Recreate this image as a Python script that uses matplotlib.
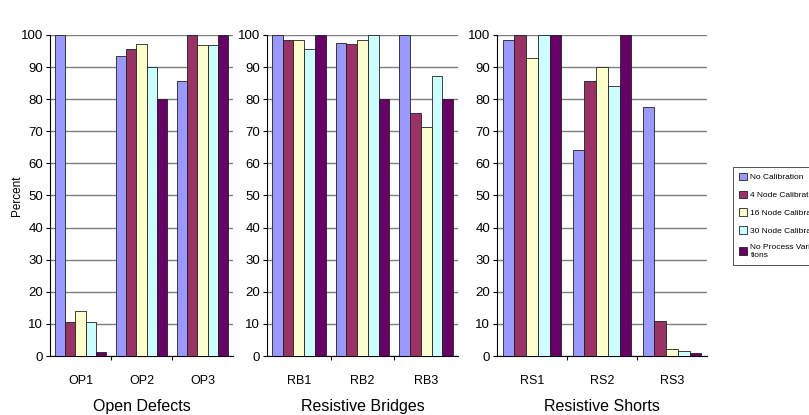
'''
Detection rate per defect type, grouped by calibration setting
'''
import matplotlib.pyplot as plt
import numpy as np

plt.rcParams['font.family'] = ['Liberation Sans', 'DejaVu Sans']

series_names = ['No Calibration', '4 Node Calibration', '16 Node Calibration',
                '30 Node Calibration', 'No Process Varia\ntions']
series_colors = ['#9999ff', '#993366', '#ffffcc', '#ccffff', '#660066']

open_labels = ['OP1', 'OP2', 'OP3']
open_values = [
    [100, 93.5, 85.6],   # No Calibration
    [10.6, 95.6, 100],   # 4 Node
    [14.0, 97.2, 97.0],  # 16 Node
    [10.6, 90.0, 97.0],  # 30 Node
    [1.1, 80.0, 100],    # No Process Variations
]

bridge_labels = ['RB1', 'RB2', 'RB3']
bridge_values = [
    [100, 97.6, 100],
    [98.4, 97.1, 75.6],
    [98.4, 98.4, 71.3],
    [95.6, 100, 87.1],
    [100, 80.0, 80.0],
]

short_labels = ['RS1', 'RS2', 'RS3']
short_values = [
    [98.5, 64.3, 77.5],
    [100, 85.6, 10.8],
    [92.8, 90.0, 2.1],
    [100, 84.0, 1.6],
    [100, 100, 0.9],
]

fig = plt.figure(figsize=(8.09, 4.15), dpi=100)

panels = [
    ('Open Defects', open_labels, open_values, [50, 233]),
    ('Resistive Bridges', bridge_labels, bridge_values, [267, 458]),
    ('Resistive Shorts', short_labels, short_values, [497, 707]),
]

W, H = 809, 415
top, bottom = 35, 356
bar_w = 0.168

for i, (title, labels, values, (x0, x1)) in enumerate(panels):
    ax = fig.add_axes([x0 / W, (H - bottom) / H, (x1 - x0) / W, (bottom - top) / H])
    centers = np.arange(len(labels)) + 0.5
    for k, vals in enumerate(values):
        offs = (k - 2) * bar_w
        ax.bar(centers + offs, vals, width=bar_w, color=series_colors[k],
               edgecolor='#202020', linewidth=0.6, label=series_names[k], zorder=3)
    ax.set_xlim(0, len(labels))
    ax.set_ylim(0, 100)
    ax.set_yticks(range(0, 101, 10))
    ax.yaxis.grid(True, color='#7f7f7f', linewidth=1.0, zorder=0)
    ax.set_axisbelow(True)
    for s in ['top', 'right']:
        ax.spines[s].set_visible(False)
    ax.spines['left'].set_linewidth(0.8)
    ax.spines['bottom'].set_linewidth(0.8)
    # category separators as ticks, names as minor labels
    ax.set_xticks([1, 2])
    ax.set_xticklabels([])
    ax.set_xticks(centers, minor=True)
    ax.set_xticklabels(labels, minor=True, fontsize=9)
    ax.tick_params(axis='x', which='minor', length=0, pad=14)
    ax.tick_params(axis='x', which='major', length=3, direction='out')
    ax.tick_params(axis='y', length=3, direction='out', labelsize=9.5, pad=2)
    ax.set_xlabel(title, fontsize=11.5, labelpad=8)
    if i == 0:
        ax.set_ylabel('Percent', fontsize=8.5)
        ax.yaxis.set_label_coords(-0.15, 0.5)

handles, names = ax.get_legend_handles_labels()
leg = fig.legend(handles, names, loc='upper left', bbox_to_anchor=(733 / W, 1 - 167 / H),
                 fontsize=6, frameon=True, fancybox=False, edgecolor='black',
                 handlelength=1.0, handleheight=1.0, borderpad=0.7, labelspacing=1.1,
                 handletextpad=0.4, borderaxespad=0)
leg.get_frame().set_linewidth(0.6)

fig.savefig('out.png', dpi=100)
